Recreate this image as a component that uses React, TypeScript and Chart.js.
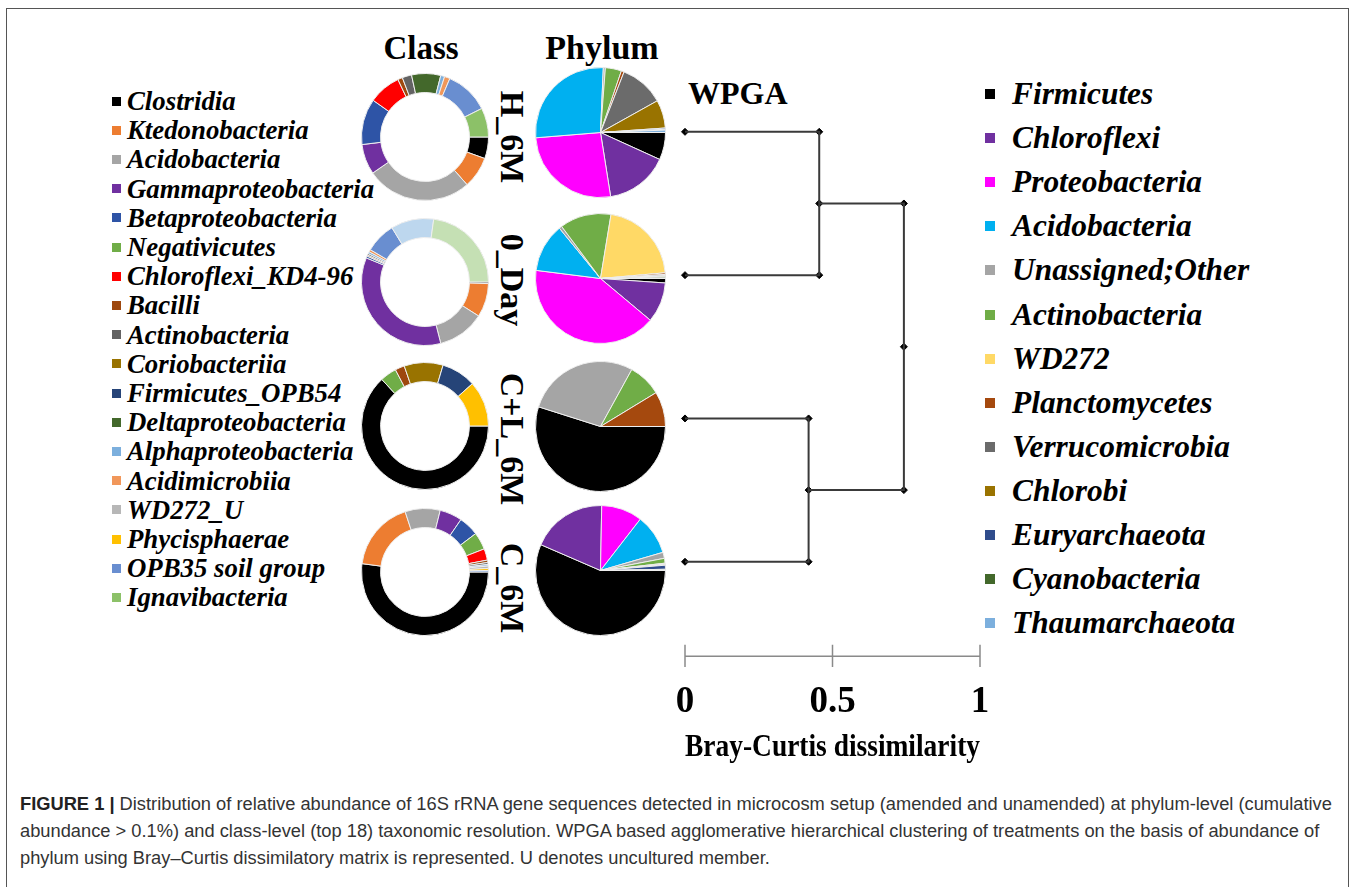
import React, { useEffect, useRef } from "react";
import { Chart, registerables } from "chart.js";
Chart.register(...registerables);
Chart.defaults.font.family = "'Liberation Serif', 'Times New Roman', serif";

// ---------- DATA ----------
const samples = ["H_6M", "0_Day", "C+L_6M", "C_6M"];

const classNames = [
  "Clostridia", "Ktedonobacteria", "Acidobacteria", "Gammaproteobacteria",
  "Betaproteobacteria", "Negativicutes", "Chloroflexi_KD4-96", "Bacilli",
  "Actinobacteria", "Coriobacteriia", "Firmicutes_OPB54", "Deltaproteobacteria",
  "Alphaproteobacteria", "Acidimicrobiia", "WD272_U", "Phycisphaerae",
  "OPB35 soil group", "Ignavibacteria", "Other class A", "Other class B",
];
const classColors = [
  "#000000", "#ED7D31", "#A5A5A5", "#7030A0",
  "#2E54A6", "#70AD47", "#FF0000", "#9E480E",
  "#636363", "#997300", "#264478", "#43682B",
  "#7CAFDD", "#F1975A", "#B7B7B7", "#FFC000",
  "#698ED0", "#8CC168", "#BDD7EE", "#C5E0B4",
];
const classLegendCount = 18;

const classH6M = [5.5, 8.0, 26.9, 7.7, 11.7, 0, 8.2, 1.2, 2.4, 0, 0, 7.4, 1.0, 1.4, 0, 0, 11.2, 7.4, 0, 0];
const class0Day = [0.4, 8.6, 12.0, 35.2, 0.5, 0, 0, 0.3, 0.4, 0, 0, 0, 0.5, 0.6, 0, 0, 7.8, 0, 10.9, 22.8];
const classCL6M = [63.1, 0, 0, 0, 0, 4.2, 0, 2.4, 0, 9.9, 8.8, 0, 0, 0, 0, 11.6, 0, 0, 0, 0];
const classC6M = [52.0, 17.8, 8.9, 5.7, 5.1, 4.4, 2.9, 0.6, 0.5, 0, 0, 0, 0.4, 0, 0.6, 0.5, 0.4, 0, 0, 0];

const phylumNames = [
  "Firmicutes", "Chloroflexi", "Proteobacteria", "Acidobacteria", "Unassigned;Other",
  "Actinobacteria", "WD272", "Planctomycetes", "Verrucomicrobia", "Chlorobi",
  "Euryarchaeota", "Cyanobacteria", "Thaumarchaeota",
];
const phylumColors = [
  "#000000", "#7030A0", "#FF00FF", "#00B0F0", "#A5A5A5",
  "#70AD47", "#FFD966", "#A5490E", "#6B6B6B", "#997300",
  "#2F4C8C", "#43682B", "#7CAFDD",
];

const phylumH6M = [6.8, 15.7, 26.2, 27.0, 0.5, 4.0, 0, 0.7, 11.0, 7.0, 0.3, 0.2, 0.6];
const phylum0Day = [1.1, 10.0, 40.9, 12.1, 0.7, 12.8, 21.0, 0.4, 0.3, 0.2, 0.1, 0.3, 0.1];
const phylumCL6M = [54.9, 0, 0, 0, 28.1, 8.3, 0, 8.7, 0, 0, 0, 0, 0];
const phylumC6M = [56.5, 18.8, 10.2, 10.0, 1.5, 1.2, 0, 0.2, 0.2, 0.1, 1.0, 0.2, 0.1];

const classBySample = [classH6M, class0Day, classCL6M, classC6M];
const phylumBySample = [phylumH6M, phylum0Day, phylumCL6M, phylumC6M];

// WPGA clustering: nodes 0..3 are samples, 4.. are merges
const mergeA = [0, 2, 4];
const mergeB = [1, 3, 5];
const mergeHeight = [0.455, 0.419, 0.742];

const scaleTicks = [0, 0.5, 1];
const scaleTickLabels = ["0", "0.5", "1"];
const axisTitle = "Bray-Curtis dissimilarity";

const captionLines = [
  "Distribution of relative abundance of 16S rRNA gene sequences detected in microcosm setup (amended and unamended) at phylum-level (cumulative",
  "abundance > 0.1%) and class-level (top 18) taxonomic resolution. WPGA based agglomerative hierarchical clustering of treatments on the basis of abundance of",
  "phylum using Bray\u2013Curtis dissimilatory matrix is represented. U denotes uncultured member.",
];

// ---------- LAYOUT ----------
const SERIF = "'Liberation Serif', 'Times New Roman', serif";
const donutCx = 425;
const donutCy = [137, 282, 426, 572];
const pieCx = 600;
const pieCy = [132, 278, 426, 570];
const labelCy = [137, 280, 439, 588];

function Pie({ values, colors, labels, cutout, cx, cy, size }: any) {
  const ref = useRef<HTMLCanvasElement>(null);
  useEffect(() => {
    const chart = new Chart(ref.current!, {
      type: "doughnut",
      data: {
        labels,
        datasets: [
          {
            data: values,
            backgroundColor: colors,
            borderColor: "#eeeeee",
            borderWidth: values.map((v: number) => (v > 0 ? 1 : 0)),
          },
        ],
      },
      options: {
        responsive: false,
        animation: false,
        rotation: 90,
        cutout,
        layout: { padding: 0 },
        plugins: { legend: { display: false }, tooltip: { enabled: false } },
      } as any,
    });
    return () => chart.destroy();
  }, []);
  return (
    <canvas
      ref={ref}
      width={size}
      height={size}
      style={{ position: "absolute", left: cx - size / 2, top: cy - size / 2, width: size, height: size }}
    />
  );
}

function Dendrogram() {
  const ref = useRef<HTMLCanvasElement>(null);
  useEffect(() => {
    const nodeY: number[] = samples.map((_, i) => i);
    const nodeH: number[] = samples.map(() => 0);
    const datasets: any[] = [];
    const dots: any[] = samples.map((_, i) => ({ x: 0, y: i }));
    mergeA.forEach((a, k) => {
      const b = mergeB[k];
      const h = mergeHeight[k];
      const y = (nodeY[a] + nodeY[b]) / 2;
      nodeY.push(y);
      nodeH.push(h);
      datasets.push({
        data: [
          { x: nodeH[a], y: nodeY[a] },
          { x: h, y: nodeY[a] },
          { x: h, y: nodeY[b] },
          { x: nodeH[b], y: nodeY[b] },
        ],
        showLine: true,
        borderColor: "#3a3a3a",
        borderWidth: 2,
        pointRadius: 0,
        clip: false,
      });
      dots.push({ x: h, y: nodeY[a] }, { x: h, y }, { x: h, y: nodeY[b] });
    });
    datasets.push({
      data: dots,
      backgroundColor: "#000",
      borderColor: "#000",
      pointRadius: 3.5,
      pointStyle: "rectRot",
      clip: false,
    });
    const barY = 3.66;
    datasets.push({
      data: [
        { x: scaleTicks[0], y: barY },
        { x: scaleTicks[scaleTicks.length - 1], y: barY },
      ],
      showLine: true,
      borderColor: "#8a8a8a",
      borderWidth: 1.5,
      pointRadius: 0,
      clip: false,
    });
    scaleTicks.forEach((t) => {
      datasets.push({
        data: [
          { x: t, y: barY - 0.08 },
          { x: t, y: barY + 0.075 },
        ],
        showLine: true,
        borderColor: "#8a8a8a",
        borderWidth: 1.5,
        pointRadius: 0,
        clip: false,
      });
    });
    const chart = new Chart(ref.current!, {
      type: "scatter",
      data: { datasets },
      options: {
        responsive: false,
        animation: false,
        layout: { padding: { left: 15, right: 20, top: 14.5, bottom: 6 } },
        plugins: { legend: { display: false }, tooltip: { enabled: false } },
        scales: {
          x: {
            type: "linear",
            min: 0,
            max: 1,
            afterBuildTicks: (axis: any) => {
              axis.ticks = scaleTicks.map((v) => ({ value: v }));
            },
            grid: { display: false, drawTicks: false },
            border: { display: false },
            ticks: {
              color: "#000",
              padding: 4,
              font: { size: 37, weight: "bold" },
              callback: (v: number) => scaleTickLabels[scaleTicks.indexOf(v)] ?? String(v),
            },
            title: {
              display: true,
              text: axisTitle,
              color: "#000",
              padding: { top: 1, bottom: 0 },
              font: { size: 31, weight: "bold" },
            },
          },
          y: { type: "linear", min: -0.4, max: 3.8, reverse: true, display: false },
        },
      } as any,
    });
    return () => chart.destroy();
  }, []);
  const W = 330;
  const H = 713;
  return (
    <canvas ref={ref} width={W} height={H} style={{ position: "absolute", left: 670, top: 60, width: W, height: H }} />
  );
}

function Legend({ names, colors, count, left, top0, step, fontSize, sq, gap }: any) {
  return (
    <>
      {names.slice(0, count).map((n: string, i: number) => (
        <div
          key={n}
          style={{
            position: "absolute",
            left,
            top: top0 + i * step - 20,
            height: 40,
            display: "flex",
            alignItems: "center",
            whiteSpace: "nowrap",
          }}
        >
          <div style={{ width: sq, height: sq, background: colors[i], marginRight: gap, flex: "none" }} />
          <span style={{ fontFamily: SERIF, fontWeight: "bold", fontStyle: "italic", fontSize, lineHeight: "40px" }}>{n}</span>
        </div>
      ))}
    </>
  );
}

function Text({ children, x, y, size, anchor = "center", rotate = 0, style = {} }: any) {
  const tx = anchor === "center" ? "-50%" : "0";
  return (
    <div
      style={{
        position: "absolute",
        left: x,
        top: y,
        transform: `translate(${tx}, -50%) rotate(${rotate}deg)`,
        fontFamily: SERIF,
        fontWeight: "bold",
        fontSize: size,
        lineHeight: 1,
        whiteSpace: "nowrap",
        color: "#000",
        ...style,
      }}
    >
      {children}
    </div>
  );
}

export default function App() {
  return (
    <div
      style={{
        position: "absolute",
        left: 0,
        top: 0,
        width: 1355,
        height: 887,
        overflow: "hidden",
        background: "#fff",
      }}
    >
      <div
        style={{
          position: "absolute",
          left: 6,
          top: 8,
          width: 1341,
          height: 920,
          border: "1.5px solid #555",
        }}
      />
      <Text x={421} y={48} size={33}>Class</Text>
      <Text x={602} y={48} size={34}>Phylum</Text>
      <Text x={688} y={93} size={32} anchor="left">WPGA</Text>

      <Legend names={classNames} colors={classColors} count={classLegendCount} left={112} top0={101} step={29.2} fontSize={26.8} sq={9} gap={6} />
      <Legend names={phylumNames} colors={phylumColors} count={phylumNames.length} left={985} top0={94} step={44.1} fontSize={31.4} sq={10} gap={17} />

      {samples.map((s, i) => (
        <React.Fragment key={s}>
          <Pie values={classBySample[i]} colors={classColors} labels={classNames} cutout="70%" cx={donutCx} cy={donutCy[i]} size={128} />
          <Pie values={phylumBySample[i]} colors={phylumColors} labels={phylumNames} cutout={0} cx={pieCx} cy={pieCy[i]} size={131} />
          <Text x={512} y={labelCy[i]} size={34} rotate={90}>{s}</Text>
        </React.Fragment>
      ))}

      <Dendrogram />

      <div
        style={{
          position: "absolute",
          left: 20,
          top: 790,
          fontFamily: "'Liberation Sans', Arial, sans-serif",
          fontSize: 18.3,
          lineHeight: "27px",
          color: "#333",
          whiteSpace: "nowrap",
        }}
      >
        {captionLines.map((l, i) => (
          <div key={i}>
            {i === 0 && <b style={{ color: "#222" }}>FIGURE 1 | </b>}
            {l}
          </div>
        ))}
      </div>
    </div>
  );
}
